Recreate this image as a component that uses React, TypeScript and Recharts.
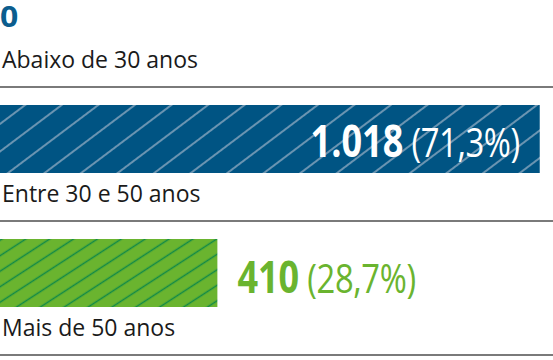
import React from 'react';
import { BarChart, Bar, XAxis, YAxis, LabelList, Cell } from 'recharts';

const categories = ['Abaixo de 30 anos', 'Entre 30 e 50 anos', 'Mais de 50 anos'];
const counts = [0, 1018, 410];
const shares = ['', '71,3', '28,7'];

const data = categories.map((name, i) => ({ name, value: counts[i], share: shares[i] }));

const BLUE = '#005483';
const GREEN = '#6ab42f';
const fills = ['url(#hatchBlue)', 'url(#hatchBlue)', 'url(#hatchGreen)'];
const labelColors = ['#0b5d8e', '#ffffff', '#6ab42f'];
const labelPlacement = ['outside', 'inside', 'outside'];

const NUM_FONT = "'Open Sans', sans-serif";
const TXT_FONT = "'Open Sans', sans-serif";
const SQUEEZE = 0.82;

const CategoryTick = (props: any) => {
  const { y, payload } = props;
  const i = categories.indexOf(payload.value);
  const v = counts[i];
  return (
    <g>
      {v === 0 && (
        <g transform={`translate(0, ${y + 22}) scale(1.1, 1)`}>
          <text x={0} y={0} fontSize={29} fontWeight={700} fontFamily={NUM_FONT} fill={labelColors[i]}>
            {v.toLocaleString('pt-BR')}
          </text>
        </g>
      )}
      <text x={2} y={y + 63} fontSize={23} fontFamily={TXT_FONT} fill="#1a1a1a">
        {payload.value}
      </text>
      <line x1={0} x2={553} y1={y + 82} y2={y + 82} stroke="#7a7a7a" strokeWidth={2} />
    </g>
  );
};

const ValueLabel = (props: any) => {
  const { x, y, width, height, value } = props;
  const index = counts.indexOf(Number(value));
  const v = counts[index];
  if (!v) return null;
  const cy = y + height / 2;
  const inside = labelPlacement[index] === 'inside';
  const tx = inside ? x + width - 20 : x + width + 20;
  const ty = inside ? cy + 18 : cy + 20;
  return (
    <g transform={`translate(${tx}, ${ty}) scale(${SQUEEZE}, 1)`}>
      <text
        x={0}
        y={0}
        fontSize={44}
        fontFamily={NUM_FONT}
        fill={labelColors[index]}
        textAnchor={inside ? 'end' : 'start'}
      >
        <tspan fontWeight={700}>{v.toLocaleString('pt-BR')}</tspan>
        <tspan fontWeight={400} fontSize={40} letterSpacing={-0.5}>{` (${shares[index]}%)`}</tspan>
      </text>
    </g>
  );
};

export default function App() {
  return (
    <div style={{ width: 553, height: 360, background: '#fff' }}>
      <style>{'body{margin:0}'}</style>
      <svg width={0} height={0} style={{ position: 'absolute' }}>
        <defs>
          <pattern id="hatchBlue" patternUnits="userSpaceOnUse" width={22} height={22} patternTransform="rotate(-37)">
            <rect x={0} y={0} width={22} height={22} fill={BLUE} />
            <line x1={-1} x2={23} y1={11} y2={11} stroke="#8eaac1" strokeWidth={1.5} />
          </pattern>
          <pattern id="hatchGreen" patternUnits="userSpaceOnUse" width={13} height={13} patternTransform="rotate(-33)">
            <rect x={0} y={0} width={13} height={13} fill={GREEN} />
            <line x1={-1} x2={14} y1={6.5} y2={6.5} stroke="#108a48" strokeWidth={1.5} />
          </pattern>
        </defs>
      </svg>
      <BarChart
        width={553}
        height={360}
        data={data}
        layout="vertical"
        margin={{ top: -62, right: 0, bottom: 20, left: -1 }}
      >
        <XAxis type="number" domain={[0, 1043]} hide />
        <YAxis
          type="category"
          dataKey="name"
          width={1}
          axisLine={false}
          tickLine={false}
          interval={0}
          tick={<CategoryTick />}
        />
        <Bar dataKey="value" barSize={68} isAnimationActive={false}>
          {data.map((d, i) => (
            <Cell key={d.name} fill={fills[i]} />
          ))}
          <LabelList dataKey="value" content={<ValueLabel />} />
        </Bar>
      </BarChart>
    </div>
  );
}
